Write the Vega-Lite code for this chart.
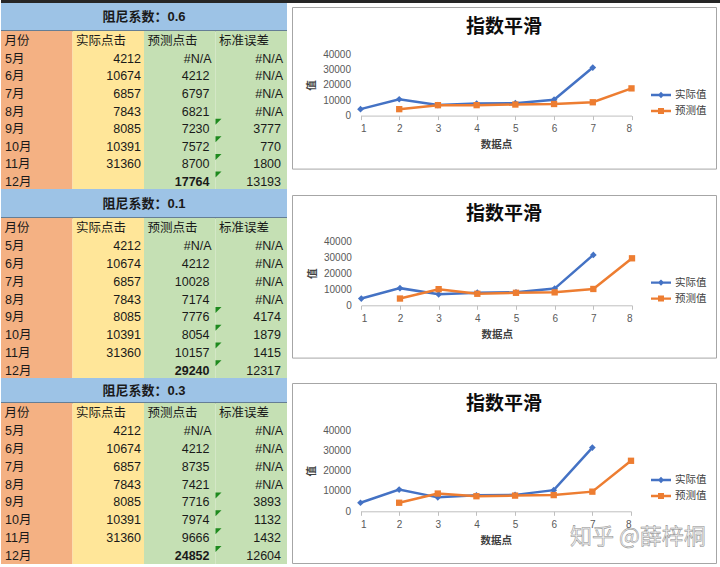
{
  "$schema": "https://vega.github.io/schema/vega-lite/v6.json",
  "background": "white",
  "padding": 0,
  "config": {
    "font": "Liberation Sans, Noto Sans CJK SC",
    "view": {"stroke": null},
    "text": {"color": "#1a1a1a", "fontSize": 12.5, "baseline": "middle"}
  },
  "datasets": {
    "cols": [
      {"col": "month", "label": "月份"},
      {"col": "actual", "label": "实际点击"},
      {"col": "pred", "label": "预测点击"},
      {"col": "err", "label": "标准误差"}
    ],
    "rows": [
      {"damp": "0.6", "month": "5月", "idx": 1, "actual": 4212, "pred": null, "err": null},
      {"damp": "0.6", "month": "6月", "idx": 2, "actual": 10674, "pred": 4212, "err": null},
      {"damp": "0.6", "month": "7月", "idx": 3, "actual": 6857, "pred": 6797, "err": null},
      {"damp": "0.6", "month": "8月", "idx": 4, "actual": 7843, "pred": 6821, "err": null},
      {"damp": "0.6", "month": "9月", "idx": 5, "actual": 8085, "pred": 7230, "err": 3777},
      {"damp": "0.6", "month": "10月", "idx": 6, "actual": 10391, "pred": 7572, "err": 770},
      {"damp": "0.6", "month": "11月", "idx": 7, "actual": 31360, "pred": 8700, "err": 1800},
      {"damp": "0.6", "month": "12月", "idx": 8, "actual": null, "pred": 17764, "err": 13193},
      {"damp": "0.1", "month": "5月", "idx": 1, "actual": 4212, "pred": null, "err": null},
      {"damp": "0.1", "month": "6月", "idx": 2, "actual": 10674, "pred": 4212, "err": null},
      {"damp": "0.1", "month": "7月", "idx": 3, "actual": 6857, "pred": 10028, "err": null},
      {"damp": "0.1", "month": "8月", "idx": 4, "actual": 7843, "pred": 7174, "err": null},
      {"damp": "0.1", "month": "9月", "idx": 5, "actual": 8085, "pred": 7776, "err": 4174},
      {"damp": "0.1", "month": "10月", "idx": 6, "actual": 10391, "pred": 8054, "err": 1879},
      {"damp": "0.1", "month": "11月", "idx": 7, "actual": 31360, "pred": 10157, "err": 1415},
      {"damp": "0.1", "month": "12月", "idx": 8, "actual": null, "pred": 29240, "err": 12317},
      {"damp": "0.3", "month": "5月", "idx": 1, "actual": 4212, "pred": null, "err": null},
      {"damp": "0.3", "month": "6月", "idx": 2, "actual": 10674, "pred": 4212, "err": null},
      {"damp": "0.3", "month": "7月", "idx": 3, "actual": 6857, "pred": 8735, "err": null},
      {"damp": "0.3", "month": "8月", "idx": 4, "actual": 7843, "pred": 7421, "err": null},
      {"damp": "0.3", "month": "9月", "idx": 5, "actual": 8085, "pred": 7716, "err": 3893},
      {"damp": "0.3", "month": "10月", "idx": 6, "actual": 10391, "pred": 7974, "err": 1132},
      {"damp": "0.3", "month": "11月", "idx": 7, "actual": 31360, "pred": 9666, "err": 1432},
      {"damp": "0.3", "month": "12月", "idx": 8, "actual": null, "pred": 24852, "err": 12604}
    ]
  },
  "spacing": 0,
  "resolve": {"scale": {"color": "independent", "shape": "independent"}, "legend": {"color": "independent", "shape": "independent"}},
  "vconcat": [
    {"width": 720, "height": 3, "view": {"fill": "#262626", "stroke": null}, "data": {"values": []}, "mark": "point"},
    {
      "spacing": 3,
      "resolve": {"scale": {"color": "independent", "shape": "independent"}, "legend": {"color": "independent", "shape": "independent"}},
      "hconcat": [
        {
          "spacing": 0,
          "bounds": "flush",
          "resolve": {"scale": {"color": "independent", "shape": "independent"}, "legend": {"color": "independent", "shape": "independent"}},
          "vconcat": [
            {"width": 286, "height": 28, "view": {"fill": "#9DC3E6", "stroke": null}, "data": {"values": [{}]},
             "layer": [
               {"mark": {"type": "text", "fontWeight": "bold", "fontSize": 13}, "encoding": {"text": {"value": "阻尼系数：0.6"}}},
               {"mark": {"type": "rule", "color": "#2f3a45", "strokeWidth": 1.2}, "encoding": {"y": {"value": "height"}}}
             ]},
            {"width": 286, "height": 158,
             "layer": [
               {"data": {"name": "cols"}, "transform": [{"filter": "datum.col == 'month'"}], "mark": {"type": "rect", "color": "#F4B183"}, "encoding": {"x": {"field": "col", "type": "nominal", "scale": {"type": "band", "domain": ["month", "actual", "pred", "err"], "paddingInner": 0, "paddingOuter": 0}, "axis": null}}},
               {"data": {"name": "cols"}, "transform": [{"filter": "datum.col == 'actual'"}], "mark": {"type": "rect", "color": "#FFE699"}, "encoding": {"x": {"field": "col", "type": "nominal", "axis": null}}},
               {"data": {"name": "cols"}, "transform": [{"filter": "datum.col == 'pred' || datum.col == 'err'"}], "mark": {"type": "rect", "color": "#C5E0B4"}, "encoding": {"x": {"field": "col", "type": "nominal", "axis": null}}},
               {"data": {"name": "cols"}, "mark": {"type": "text", "align": "left", "dx": 3.5, "dy": 1.5}, "encoding": {"x": {"field": "col", "type": "nominal", "bandPosition": 0, "axis": null}, "y": {"datum": "月份", "type": "nominal", "scale": {"type": "band", "domain": ["月份", "5月", "6月", "7月", "8月", "9月", "10月", "11月", "12月"], "paddingInner": 0, "paddingOuter": 0}, "axis": null}, "text": {"field": "label"}}},
               {"data": {"name": "rows"}, "transform": [{"filter": "datum.damp == '0.6'"}], "mark": {"type": "text", "align": "left", "dx": 4, "dy": 1.5}, "encoding": {"x": {"datum": "month", "type": "nominal", "bandPosition": 0, "axis": null}, "y": {"field": "month", "type": "nominal", "axis": null}, "text": {"field": "month"}}},
               {"data": {"name": "rows"}, "transform": [{"filter": "datum.damp == '0.6'"}, {"fold": ["actual", "pred", "err"], "as": ["col", "val"]}, {"filter": "datum.col == 'actual' && datum.val != null"}], "mark": {"type": "text", "align": "right", "dx": -3, "dy": 1.5}, "encoding": {"x": {"field": "col", "type": "nominal", "bandPosition": 1, "axis": null}, "y": {"field": "month", "type": "nominal", "axis": null}, "text": {"field": "val", "type": "quantitative", "format": "d"}}},
               {"data": {"name": "rows"}, "transform": [{"filter": "datum.damp == '0.6'"}, {"fold": ["actual", "pred", "err"], "as": ["col", "val"]}, {"filter": "datum.col != 'actual' && datum.val != null && !(datum.col == 'pred' && datum.month == '12月')"}], "mark": {"type": "text", "align": "right", "dx": -6, "dy": 1.5}, "encoding": {"x": {"field": "col", "type": "nominal", "bandPosition": 1, "axis": null}, "y": {"field": "month", "type": "nominal", "axis": null}, "text": {"field": "val", "type": "quantitative", "format": "d"}}},
               {"data": {"name": "rows"}, "transform": [{"filter": "datum.damp == '0.6' && datum.month == '12月'"}], "mark": {"type": "text", "align": "right", "dx": -6, "dy": 1.5, "fontWeight": "bold"}, "encoding": {"x": {"datum": "pred", "type": "nominal", "bandPosition": 1, "axis": null}, "y": {"field": "month", "type": "nominal", "axis": null}, "text": {"field": "pred", "type": "quantitative", "format": "d"}}},
               {"data": {"name": "rows"}, "transform": [{"filter": "datum.damp == '0.6'"}, {"fold": ["actual", "pred", "err"], "as": ["col", "val"]}, {"filter": "datum.col != 'actual' && datum.val == null"}], "mark": {"type": "text", "align": "right", "dx": -4, "dy": 1.5}, "encoding": {"x": {"field": "col", "type": "nominal", "bandPosition": 1, "axis": null}, "y": {"field": "month", "type": "nominal", "axis": null}, "text": {"value": "#N/A"}}},
               {"data": {"name": "rows"}, "transform": [{"filter": "datum.damp == '0.6' && datum.err != null"}], "mark": {"type": "point", "shape": "M0,0H1L0,1Z", "filled": true, "color": "#1e8a1e", "opacity": 1, "size": 144}, "encoding": {"x": {"datum": "err", "type": "nominal", "bandPosition": 0, "axis": null}, "y": {"field": "month", "type": "nominal", "bandPosition": 0, "axis": null}}}
             ]},
            {"width": 286, "height": 29, "view": {"fill": "#9DC3E6", "stroke": null}, "data": {"values": [{}]},
             "layer": [
               {"mark": {"type": "text", "fontWeight": "bold", "fontSize": 13}, "encoding": {"text": {"value": "阻尼系数：0.1"}}},
               {"mark": {"type": "rule", "color": "#2f3a45", "strokeWidth": 1.2}, "encoding": {"y": {"value": "height"}}}
             ]},
            {"width": 286, "height": 160,
             "layer": [
               {"data": {"name": "cols"}, "transform": [{"filter": "datum.col == 'month'"}], "mark": {"type": "rect", "color": "#F4B183"}, "encoding": {"x": {"field": "col", "type": "nominal", "scale": {"type": "band", "domain": ["month", "actual", "pred", "err"], "paddingInner": 0, "paddingOuter": 0}, "axis": null}}},
               {"data": {"name": "cols"}, "transform": [{"filter": "datum.col == 'actual'"}], "mark": {"type": "rect", "color": "#FFE699"}, "encoding": {"x": {"field": "col", "type": "nominal", "axis": null}}},
               {"data": {"name": "cols"}, "transform": [{"filter": "datum.col == 'pred' || datum.col == 'err'"}], "mark": {"type": "rect", "color": "#C5E0B4"}, "encoding": {"x": {"field": "col", "type": "nominal", "axis": null}}},
               {"data": {"name": "cols"}, "mark": {"type": "text", "align": "left", "dx": 3.5, "dy": 1.5}, "encoding": {"x": {"field": "col", "type": "nominal", "bandPosition": 0, "axis": null}, "y": {"datum": "月份", "type": "nominal", "scale": {"type": "band", "domain": ["月份", "5月", "6月", "7月", "8月", "9月", "10月", "11月", "12月"], "paddingInner": 0, "paddingOuter": 0}, "axis": null}, "text": {"field": "label"}}},
               {"data": {"name": "rows"}, "transform": [{"filter": "datum.damp == '0.1'"}], "mark": {"type": "text", "align": "left", "dx": 4, "dy": 1.5}, "encoding": {"x": {"datum": "month", "type": "nominal", "bandPosition": 0, "axis": null}, "y": {"field": "month", "type": "nominal", "axis": null}, "text": {"field": "month"}}},
               {"data": {"name": "rows"}, "transform": [{"filter": "datum.damp == '0.1'"}, {"fold": ["actual", "pred", "err"], "as": ["col", "val"]}, {"filter": "datum.col == 'actual' && datum.val != null"}], "mark": {"type": "text", "align": "right", "dx": -3, "dy": 1.5}, "encoding": {"x": {"field": "col", "type": "nominal", "bandPosition": 1, "axis": null}, "y": {"field": "month", "type": "nominal", "axis": null}, "text": {"field": "val", "type": "quantitative", "format": "d"}}},
               {"data": {"name": "rows"}, "transform": [{"filter": "datum.damp == '0.1'"}, {"fold": ["actual", "pred", "err"], "as": ["col", "val"]}, {"filter": "datum.col != 'actual' && datum.val != null && !(datum.col == 'pred' && datum.month == '12月')"}], "mark": {"type": "text", "align": "right", "dx": -6, "dy": 1.5}, "encoding": {"x": {"field": "col", "type": "nominal", "bandPosition": 1, "axis": null}, "y": {"field": "month", "type": "nominal", "axis": null}, "text": {"field": "val", "type": "quantitative", "format": "d"}}},
               {"data": {"name": "rows"}, "transform": [{"filter": "datum.damp == '0.1' && datum.month == '12月'"}], "mark": {"type": "text", "align": "right", "dx": -6, "dy": 1.5, "fontWeight": "bold"}, "encoding": {"x": {"datum": "pred", "type": "nominal", "bandPosition": 1, "axis": null}, "y": {"field": "month", "type": "nominal", "axis": null}, "text": {"field": "pred", "type": "quantitative", "format": "d"}}},
               {"data": {"name": "rows"}, "transform": [{"filter": "datum.damp == '0.1'"}, {"fold": ["actual", "pred", "err"], "as": ["col", "val"]}, {"filter": "datum.col != 'actual' && datum.val == null"}], "mark": {"type": "text", "align": "right", "dx": -4, "dy": 1.5}, "encoding": {"x": {"field": "col", "type": "nominal", "bandPosition": 1, "axis": null}, "y": {"field": "month", "type": "nominal", "axis": null}, "text": {"value": "#N/A"}}},
               {"data": {"name": "rows"}, "transform": [{"filter": "datum.damp == '0.1' && datum.err != null"}], "mark": {"type": "point", "shape": "M0,0H1L0,1Z", "filled": true, "color": "#1e8a1e", "opacity": 1, "size": 144}, "encoding": {"x": {"datum": "err", "type": "nominal", "bandPosition": 0, "axis": null}, "y": {"field": "month", "type": "nominal", "bandPosition": 0, "axis": null}}}
             ]},
            {"width": 286, "height": 25, "view": {"fill": "#9DC3E6", "stroke": null}, "data": {"values": [{}]},
             "layer": [
               {"mark": {"type": "text", "fontWeight": "bold", "fontSize": 13}, "encoding": {"text": {"value": "阻尼系数：0.3"}}},
               {"mark": {"type": "rule", "color": "#2f3a45", "strokeWidth": 1.2}, "encoding": {"y": {"value": "height"}}}
             ]},
            {"width": 286, "height": 161,
             "layer": [
               {"data": {"name": "cols"}, "transform": [{"filter": "datum.col == 'month'"}], "mark": {"type": "rect", "color": "#F4B183"}, "encoding": {"x": {"field": "col", "type": "nominal", "scale": {"type": "band", "domain": ["month", "actual", "pred", "err"], "paddingInner": 0, "paddingOuter": 0}, "axis": null}}},
               {"data": {"name": "cols"}, "transform": [{"filter": "datum.col == 'actual'"}], "mark": {"type": "rect", "color": "#FFE699"}, "encoding": {"x": {"field": "col", "type": "nominal", "axis": null}}},
               {"data": {"name": "cols"}, "transform": [{"filter": "datum.col == 'pred' || datum.col == 'err'"}], "mark": {"type": "rect", "color": "#C5E0B4"}, "encoding": {"x": {"field": "col", "type": "nominal", "axis": null}}},
               {"data": {"name": "cols"}, "mark": {"type": "text", "align": "left", "dx": 3.5, "dy": 1}, "encoding": {"x": {"field": "col", "type": "nominal", "bandPosition": 0, "axis": null}, "y": {"datum": "月份", "type": "nominal", "scale": {"type": "band", "domain": ["月份", "5月", "6月", "7月", "8月", "9月", "10月", "11月", "12月"], "paddingInner": 0, "paddingOuter": 0}, "axis": null}, "text": {"field": "label"}}},
               {"data": {"name": "rows"}, "transform": [{"filter": "datum.damp == '0.3'"}], "mark": {"type": "text", "align": "left", "dx": 4, "dy": 1}, "encoding": {"x": {"datum": "month", "type": "nominal", "bandPosition": 0, "axis": null}, "y": {"field": "month", "type": "nominal", "axis": null}, "text": {"field": "month"}}},
               {"data": {"name": "rows"}, "transform": [{"filter": "datum.damp == '0.3'"}, {"fold": ["actual", "pred", "err"], "as": ["col", "val"]}, {"filter": "datum.col == 'actual' && datum.val != null"}], "mark": {"type": "text", "align": "right", "dx": -3, "dy": 1}, "encoding": {"x": {"field": "col", "type": "nominal", "bandPosition": 1, "axis": null}, "y": {"field": "month", "type": "nominal", "axis": null}, "text": {"field": "val", "type": "quantitative", "format": "d"}}},
               {"data": {"name": "rows"}, "transform": [{"filter": "datum.damp == '0.3'"}, {"fold": ["actual", "pred", "err"], "as": ["col", "val"]}, {"filter": "datum.col != 'actual' && datum.val != null && !(datum.col == 'pred' && datum.month == '12月')"}], "mark": {"type": "text", "align": "right", "dx": -6, "dy": 1}, "encoding": {"x": {"field": "col", "type": "nominal", "bandPosition": 1, "axis": null}, "y": {"field": "month", "type": "nominal", "axis": null}, "text": {"field": "val", "type": "quantitative", "format": "d"}}},
               {"data": {"name": "rows"}, "transform": [{"filter": "datum.damp == '0.3' && datum.month == '12月'"}], "mark": {"type": "text", "align": "right", "dx": -6, "dy": 1, "fontWeight": "bold"}, "encoding": {"x": {"datum": "pred", "type": "nominal", "bandPosition": 1, "axis": null}, "y": {"field": "month", "type": "nominal", "axis": null}, "text": {"field": "pred", "type": "quantitative", "format": "d"}}},
               {"data": {"name": "rows"}, "transform": [{"filter": "datum.damp == '0.3'"}, {"fold": ["actual", "pred", "err"], "as": ["col", "val"]}, {"filter": "datum.col != 'actual' && datum.val == null"}], "mark": {"type": "text", "align": "right", "dx": -4, "dy": 1}, "encoding": {"x": {"field": "col", "type": "nominal", "bandPosition": 1, "axis": null}, "y": {"field": "month", "type": "nominal", "axis": null}, "text": {"value": "#N/A"}}},
               {"data": {"name": "rows"}, "transform": [{"filter": "datum.damp == '0.3' && datum.err != null"}], "mark": {"type": "point", "shape": "M0,0H1L0,1Z", "filled": true, "color": "#1e8a1e", "opacity": 1, "size": 144}, "encoding": {"x": {"datum": "err", "type": "nominal", "bandPosition": 0, "axis": null}, "y": {"field": "month", "type": "nominal", "bandPosition": 0, "axis": null}}}
             ]}
          ]
        },
        {
          "spacing": 0,
          "bounds": "flush",
          "resolve": {"scale": {"color": "independent", "shape": "independent"}, "legend": {"color": "independent", "shape": "independent"}},
          "vconcat": [
            {"width": 424, "height": 3.7, "data": {"values": []}, "mark": "point"},
            {
              "width": 424, "height": 161.6,
              "view": {"stroke": "#a6a6a6", "fill": "white"},
              "title": {"text": "指数平滑", "fontSize": 19, "fontWeight": "bold", "color": "#0d0d0d", "anchor": "middle", "offset": -30},
              "data": {"name": "rows"},
              "transform": [{"filter": "datum.damp == '0.6'"}, {"fold": ["actual", "pred"], "as": ["series", "v"]}, {"filter": "datum.v != null"}],
              "encoding": {
                "x": {"field": "idx", "type": "quantitative", "scale": {"domain": [1, 8], "range": [68.5, 339.5], "nice": false, "zero": false},
                      "axis": {"orient": "bottom", "offset": -53, "values": [1, 2, 3, 4, 5, 6, 7, 8], "format": "d", "grid": false, "domainColor": "#bfbfbf", "tickColor": "#bfbfbf", "tickSize": 4, "labelPadding": 4, "labelFontSize": 10, "labelColor": "#595959", "title": "数据点", "titleFontSize": 10.5, "titleFontWeight": "bold", "titleColor": "#404040", "titlePadding": 6}},
                "y": {"field": "v", "type": "quantitative", "scale": {"domain": [0, 40000], "range": [108.6, 47.3], "nice": false},
                      "axis": {"offset": -68.5, "values": [0, 10000, 20000, 30000, 40000], "format": "d", "grid": false, "domain": false, "ticks": false, "tickSize": 0, "labelPadding": 10, "labelFontSize": 10, "labelColor": "#595959", "title": "值", "titleFontSize": 10.5, "titleFontWeight": "bold", "titleColor": "#404040", "titlePadding": 6}},
                "color": {"field": "series", "type": "nominal", "scale": {"domain": ["actual", "pred"], "range": ["#4472C4", "#ED7D31"]},
                          "legend": {"orient": "none", "legendX": 359, "legendY": 78, "title": null, "padding": 0, "rowPadding": 0, "labelOffset": 4, "labelFontSize": 10.5, "labelColor": "#404040", "symbolSize": 400, "labelExpr": "datum.value == 'actual' ? '实际值' : '预测值'",
                                     "encode": {"symbols": {"update": {"shape": {"signal": "datum.value == 'actual' ? 'M-1,-0.12H1V0.12H-1Z M-0.32,0L0,-0.32L0.32,0L0,0.32Z' : 'M-1,-0.12H1V0.12H-1Z M-0.3,-0.3H0.3V0.3H-0.3Z'"}, "fill": {"signal": "datum.value == 'actual' ? '#4472C4' : '#ED7D31'"}, "stroke": {"value": "transparent"}, "strokeWidth": {"value": 0}, "opacity": {"value": 1}}}}}}
              },
              "layer": [
                {"mark": {"type": "line", "strokeWidth": 2.5}},
                {"transform": [{"filter": "datum.series == 'actual'"}], "mark": {"type": "point", "shape": "diamond", "filled": true, "opacity": 1, "size": 45}},
                {"transform": [{"filter": "datum.series == 'pred'"}], "mark": {"type": "point", "shape": "square", "filled": true, "opacity": 1, "size": 40}}
              ]
            },
            {"width": 424, "height": 25.4, "data": {"values": []}, "mark": "point"},
            {
              "width": 424, "height": 162.6,
              "view": {"stroke": "#a6a6a6", "fill": "white"},
              "title": {"text": "指数平滑", "fontSize": 19, "fontWeight": "bold", "color": "#0d0d0d", "anchor": "middle", "offset": -28.5},
              "data": {"name": "rows"},
              "transform": [{"filter": "datum.damp == '0.1'"}, {"fold": ["actual", "pred"], "as": ["series", "v"]}, {"filter": "datum.v != null"}],
              "encoding": {
                "x": {"field": "idx", "type": "quantitative", "scale": {"domain": [1, 8], "range": [69.3, 340], "nice": false, "zero": false},
                      "axis": {"orient": "bottom", "offset": -52.3, "values": [1, 2, 3, 4, 5, 6, 7, 8], "format": "d", "grid": false, "domainColor": "#bfbfbf", "tickColor": "#bfbfbf", "tickSize": 4, "labelPadding": 4, "labelFontSize": 10, "labelColor": "#595959", "title": "数据点", "titleFontSize": 10.5, "titleFontWeight": "bold", "titleColor": "#404040", "titlePadding": 6}},
                "y": {"field": "v", "type": "quantitative", "scale": {"domain": [0, 40000], "range": [110.3, 46], "nice": false},
                      "axis": {"offset": -69.3, "values": [0, 10000, 20000, 30000, 40000], "format": "d", "grid": false, "domain": false, "ticks": false, "tickSize": 0, "labelPadding": 10, "labelFontSize": 10, "labelColor": "#595959", "title": "值", "titleFontSize": 10.5, "titleFontWeight": "bold", "titleColor": "#404040", "titlePadding": 6}},
                "color": {"field": "series", "type": "nominal", "scale": {"domain": ["actual", "pred"], "range": ["#4472C4", "#ED7D31"]},
                          "legend": {"orient": "none", "legendX": 359, "legendY": 77.6, "title": null, "padding": 0, "rowPadding": 0, "labelOffset": 4, "labelFontSize": 10.5, "labelColor": "#404040", "symbolSize": 400, "labelExpr": "datum.value == 'actual' ? '实际值' : '预测值'",
                                     "encode": {"symbols": {"update": {"shape": {"signal": "datum.value == 'actual' ? 'M-1,-0.12H1V0.12H-1Z M-0.32,0L0,-0.32L0.32,0L0,0.32Z' : 'M-1,-0.12H1V0.12H-1Z M-0.3,-0.3H0.3V0.3H-0.3Z'"}, "fill": {"signal": "datum.value == 'actual' ? '#4472C4' : '#ED7D31'"}, "stroke": {"value": "transparent"}, "strokeWidth": {"value": 0}, "opacity": {"value": 1}}}}}}
              },
              "layer": [
                {"mark": {"type": "line", "strokeWidth": 2.5}},
                {"transform": [{"filter": "datum.series == 'actual'"}], "mark": {"type": "point", "shape": "diamond", "filled": true, "opacity": 1, "size": 45}},
                {"transform": [{"filter": "datum.series == 'pred'"}], "mark": {"type": "point", "shape": "square", "filled": true, "opacity": 1, "size": 40}}
              ]
            },
            {"width": 424, "height": 24.4, "data": {"values": []}, "mark": "point"},
            {
              "width": 424, "height": 180,
              "view": {"stroke": "#a6a6a6", "fill": "white"},
              "title": {"text": "指数平滑", "fontSize": 19, "fontWeight": "bold", "color": "#0d0d0d", "anchor": "middle", "offset": -30.5},
              "layer": [
                {
                  "data": {"name": "rows"},
                  "transform": [{"filter": "datum.damp == '0.3'"}, {"fold": ["actual", "pred"], "as": ["series", "v"]}, {"filter": "datum.v != null"}],
                  "encoding": {
                    "x": {"field": "idx", "type": "quantitative", "scale": {"domain": [1, 8], "range": [68.5, 339], "nice": false, "zero": false},
                          "axis": {"orient": "bottom", "offset": -51.7, "values": [1, 2, 3, 4, 5, 6, 7, 8], "format": "d", "grid": false, "domainColor": "#bfbfbf", "tickColor": "#bfbfbf", "tickSize": 4, "labelPadding": 4, "labelFontSize": 10, "labelColor": "#595959", "title": "数据点", "titleFontSize": 10.5, "titleFontWeight": "bold", "titleColor": "#404040", "titlePadding": 6}},
                    "y": {"field": "v", "type": "quantitative", "scale": {"domain": [0, 40000], "range": [128.3, 47], "nice": false},
                          "axis": {"offset": -68.5, "values": [0, 10000, 20000, 30000, 40000], "format": "d", "grid": false, "domain": false, "ticks": false, "tickSize": 0, "labelPadding": 10, "labelFontSize": 10, "labelColor": "#595959", "title": "值", "titleFontSize": 10.5, "titleFontWeight": "bold", "titleColor": "#404040", "titlePadding": 6}},
                    "color": {"field": "series", "type": "nominal", "scale": {"domain": ["actual", "pred"], "range": ["#4472C4", "#ED7D31"]},
                              "legend": {"orient": "none", "legendX": 359, "legendY": 87, "title": null, "padding": 0, "rowPadding": 0, "labelOffset": 4, "labelFontSize": 10.5, "labelColor": "#404040", "symbolSize": 400, "labelExpr": "datum.value == 'actual' ? '实际值' : '预测值'",
                                         "encode": {"symbols": {"update": {"shape": {"signal": "datum.value == 'actual' ? 'M-1,-0.12H1V0.12H-1Z M-0.32,0L0,-0.32L0.32,0L0,0.32Z' : 'M-1,-0.12H1V0.12H-1Z M-0.3,-0.3H0.3V0.3H-0.3Z'"}, "fill": {"signal": "datum.value == 'actual' ? '#4472C4' : '#ED7D31'"}, "stroke": {"value": "transparent"}, "strokeWidth": {"value": 0}, "opacity": {"value": 1}}}}}}
                  },
                  "layer": [
                    {"mark": {"type": "line", "strokeWidth": 2.5}},
                    {"transform": [{"filter": "datum.series == 'actual'"}], "mark": {"type": "point", "shape": "diamond", "filled": true, "opacity": 1, "size": 45}},
                    {"transform": [{"filter": "datum.series == 'pred'"}], "mark": {"type": "point", "shape": "square", "filled": true, "opacity": 1, "size": 40}}
                  ]
                },
                {
                  "data": {"values": [{}]},
                  "mark": {"type": "text", "fontSize": 22, "fill": "#f0f0f0", "stroke": "#8c8c8c", "strokeWidth": 0.5, "align": "center", "baseline": "middle", "font": "Noto Sans CJK SC"},
                  "encoding": {"x": {"datum": 8.18, "type": "quantitative"}, "y": {"datum": -12800, "type": "quantitative"}, "text": {"value": "知乎 @薛梓桐"}}
                }
              ]
            }
          ]
        }
      ]
    }
  ]
}
